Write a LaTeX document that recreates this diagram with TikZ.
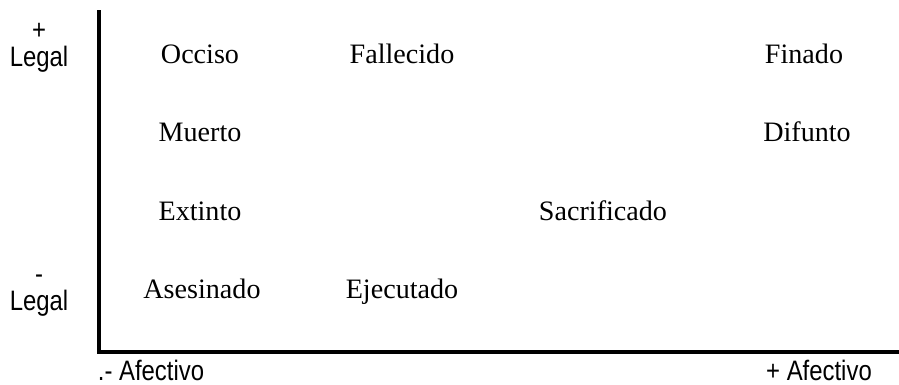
\documentclass[tikz,border=0pt]{standalone}
\usepackage{fontspec}
\setmainfont{Liberation Serif}
\newfontfamily\ejefont[FakeStretch=0.85]{Liberation Sans}
\begin{document}
\begin{tikzpicture}[palabra/.style={anchor=base, font=\fontsize{20}{24}\selectfont},
        eje/.style={anchor=base, align=center, font=\ejefont\fontsize{20}{23}\selectfont}]
        \useasboundingbox (0,0) rectangle (22.475,9.6);
        % axes
        \coordinate (arriba) at (2.475,9.35);
        \coordinate (origen) at (2.475,0.8);
        \coordinate (derecha) at (22.475,0.8);
        \draw [line width=2.8pt] (arriba) -- (origen) -- (derecha);
        \node (masleg) [eje] at (0.975,7.95) {+\\[-4pt]Legal};
        \node (menosleg) [eje] at (0.975,1.85) {-\\[-4pt]Legal};
        \node (menosaf) [eje] at (3.775,0.1) {.- Afectivo};
        \node (masaf) [eje] at (20.475,0.1) {+ Afectivo};
        % words
        \node (occiso) [palabra] at (5.0,8.02) {Occiso};
        \node (fallecido) [palabra] at (10.05,8.02) {Fallecido};
        \node (finado) [palabra] at (20.1,8.02) {Finado};
        \node (muerto) [palabra] at (5.0,6.06) {Muerto};
        \node (difunto) [palabra] at (20.175,6.06) {Difunto};
        \node (extinto) [palabra] at (5.0,4.08) {Extinto};
        \node (sacrificado) [palabra] at (15.075,4.08) {Sacrificado};
        \node (asesinado) [palabra] at (5.05,2.14) {Asesinado};
        \node (ejecutado) [palabra] at (10.05,2.14) {Ejecutado};
\end{tikzpicture}
\end{document}
